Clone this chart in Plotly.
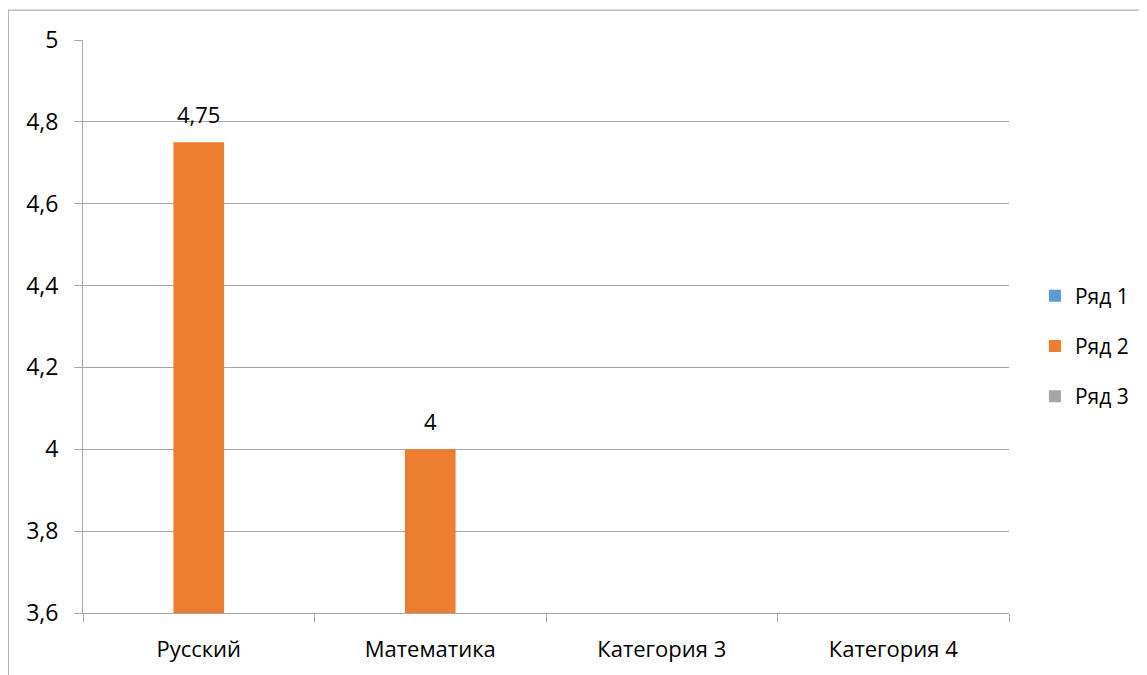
import plotly.graph_objects as go

categories = ["Русский", "Математика", "Категория 3", "Категория 4"]
series_names = ["Ряд 1", "Ряд 2", "Ряд 3"]
series1 = [None, None, None, None]
series2 = [4.75, 4.0, None, None]
series3 = [None, None, None, None]
label_texts = ["4,75", "4", "", ""]
y_min, y_max = 3.6, 5.0
y_ticks = [3.6, 3.8, 4.0, 4.2, 4.4, 4.6, 4.8, 5.0]
y_ticktext = ["3,6", "3,8", "4", "4,2", "4,4", "4,6", "4,8", "5"]
colors = ["#5B9BD5", "#ED7D31", "#A5A5A5"]

FONT = "'Open Sans', 'Noto Sans', sans-serif"

fig = go.Figure()
for i, (name, vals) in enumerate(zip(series_names, [series1, series2, series3])):
    fig.add_trace(go.Bar(
        x=categories,
        y=[v - y_min if v is not None else None for v in vals],
        base=y_min,
        name=name,
        marker=dict(color=colors[i], line=dict(width=0)),
        legendgroup=f"g{i}",
        hoverinfo="skip",
    ))

annotations = []
for cat, v, t in zip(categories, series2, label_texts):
    if v is not None:
        annotations.append(dict(
            x=cat, y=v, xref="x", yref="y", text=t, showarrow=False,
            yshift=28, font=dict(size=22, color="#000000", family=FONT),
        ))

# page body has an 8px margin: plot area lands at page x 83..1009, y 40..615
fig.update_layout(
    width=1139, height=667,
    margin=dict(l=75, r=138, t=32, b=60),
    paper_bgcolor="white", plot_bgcolor="white",
    barmode="group", bargap=0.343, bargroupgap=0,
    font=dict(family=FONT, size=22, color="#000000"),
    showlegend=True,
    legend=dict(
        x=1.028, xanchor="left", y=0.466, yanchor="middle",
        font=dict(size=21, family=FONT), tracegroupgap=20,
        bgcolor="rgba(0,0,0,0)",
    ),
    annotations=annotations,
    shapes=[dict(
        type="rect", xref="paper", yref="paper",
        x0=-0.0805, x1=1.2, y0=-0.2, y1=1.0522,
        line=dict(color="#b4b4b4", width=1.2), fillcolor="rgba(0,0,0,0)",
        layer="below",
    )],
)

fig.update_xaxes(
    type="category", showgrid=False, showline=True, linecolor="#a6a6a6", linewidth=1,
    ticks="outside", tickson="boundaries", ticklen=8, tickcolor="#a6a6a6",
    tickfont=dict(size=22, family=FONT), ticklabelstandoff=17,
)
fig.update_yaxes(
    range=[y_min, y_max], tickvals=y_ticks, ticktext=y_ticktext,
    showgrid=True, gridcolor="#a6a6a6", gridwidth=1,
    showline=True, linecolor="#a6a6a6", linewidth=1,
    ticks="outside", ticklen=8, tickcolor="#a6a6a6",
    tickfont=dict(size=23, family=FONT), ticklabelstandoff=11,
    zeroline=False,
)

fig.write_html("out.html")
